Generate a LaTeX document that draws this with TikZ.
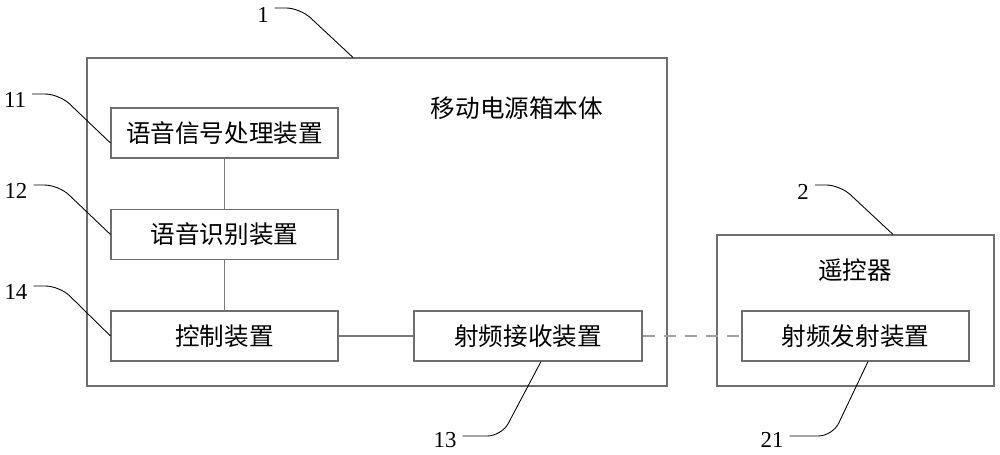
\documentclass[tikz,border=0pt]{standalone}
\usepackage{fontspec}
\setmainfont{Liberation Serif}
\newfontfamily\cjk{Noto Sans CJK SC}
\usetikzlibrary{calc}
\definecolor{boxgray}{HTML}{6E6E6E}
\definecolor{wiregray}{HTML}{7A7A7A}
\definecolor{linkgray}{HTML}{A0A0A0}

\begin{document}
\begin{tikzpicture}[
    frame/.style={draw=boxgray, line width=0.6pt, inner sep=0pt},
    unit/.style={frame, minimum width=4.54cm, minimum height=1cm, font=\cjk\fontsize{14}{16}\selectfont},
    caption/.style={font=\cjk\fontsize{14}{16}\selectfont},
    tag/.style={font=\fontsize{13}{15}\selectfont},
    leader/.style={draw=black, line width=0.5pt, rounded corners=8pt},
    wire/.style={draw=wiregray, line width=0.6pt}
]
    \useasboundingbox (0,0) rectangle (20,-9.1);

    % Power box body
    \node[frame, minimum width=11.6cm, minimum height=6.56cm] (body) at (7.54,-4.44) {};
    \node[caption] (bodytext) at (10.34,-2.16) {移动电源箱本体};
    \node[unit] (proc) at (4.49,-2.66) {语音信号处理装置};
    \node[unit] (recog) at (4.49,-4.69) {语音识别装置};
    \node[unit] (ctrl) at (4.49,-6.72) {控制装置};
    \node[unit, minimum width=4.56cm] (rx) at (10.56,-6.72) {射频接收装置};

    % Remote
    \node[frame, minimum width=5.54cm, minimum height=3.02cm] (remote) at (17.11,-6.21) {};
    \node[caption] (remotetext) at (17.1,-5.4) {遥控器};
    \node[unit] (tx) at (17.11,-6.72) {射频发射装置};

    % Links
    \draw[wire] (proc.south) -- (recog.north);
    \draw[wire] (recog.south) -- (ctrl.north);
    \draw[wire] (ctrl.east) -- (rx.west);
    \draw[draw=linkgray, line width=0.7pt, dash pattern=on 7pt off 5pt] (rx.east) -- (tx.west);

    % Reference numbers
    \node[tag] (n1) at (5.26,-0.30) {1};
    \node[tag] (n11) at (0.30,-2.00) {11};
    \node[tag] (n12) at (0.32,-3.82) {12};
    \node[tag] (n14) at (0.32,-5.84) {14};
    \node[tag] (n2) at (16.06,-3.84) {2};
    \node[tag] (n13) at (8.90,-8.80) {13};
    \node[tag] (n21) at (15.44,-8.80) {21};

    \draw[leader] ([yshift=4pt]n1.east) -- ++(0.5,0) -- (7.06,0 |- body.north);
    \draw[leader] ([yshift=3.4pt]n11.east) -- ++(0.54,0) -- ([yshift=-0.2cm]proc.west);
    \draw[leader] ([yshift=3.4pt]n12.east) -- ++(0.5,0) -- (recog.west);
    \draw[leader] ([yshift=3.4pt]n14.east) -- ++(0.52,0) -- (ctrl.west);
    \draw[leader] ([yshift=4pt]n2.east) -- ++(0.5,0) -- (17.86,0 |- remote.north);
    \draw[leader] ([yshift=2.3pt]n13.east) -- ++(0.78,0) -- (10.82,0 |- rx.south);
    \draw[leader] ([yshift=2.3pt]n21.east) -- ++(0.86,0) -- (17.36,0 |- tx.south);
\end{tikzpicture}
\end{document}
